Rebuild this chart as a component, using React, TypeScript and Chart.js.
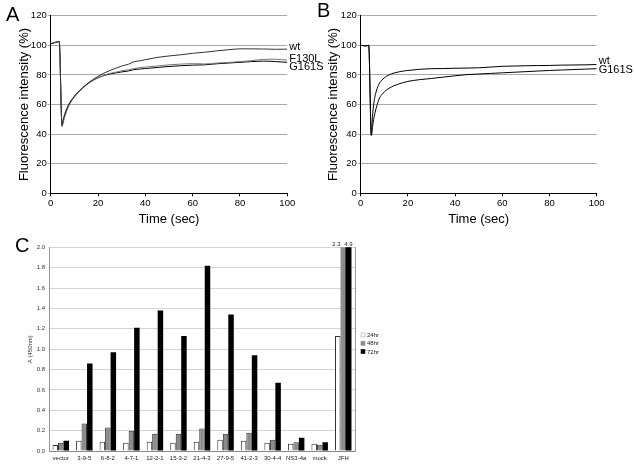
import React, { useEffect, useRef } from "react";
import { Chart, registerables } from "chart.js";
Chart.register(...registerables);

const FONT = "'Liberation Sans', Arial, Helvetica, sans-serif";

// ---------- Panel A data ----------
const timeA = [0, 1, 2, 3, 3.6, 4.8, 5.3, 6, 7, 8, 10, 12, 15, 18, 20, 22, 25, 28, 30, 33, 35, 38, 40, 45, 50, 55, 60, 65, 70, 75, 80, 85, 90, 95, 100];
const wtA = [101, 101.5, 102, 102.3, 102.6, 46, 50, 54, 58, 61, 65.5, 69, 73.5, 77, 79, 80.8, 83, 84.8, 86, 87.3, 88.8, 89.6, 90.3, 91.8, 92.8, 93.6, 94.6, 95.3, 96.2, 97, 97.6, 97.6, 97.5, 97.3, 97.4];
const f130lA = [101, 101.5, 102, 102.3, 102.6, 45, 48, 52, 56.5, 60, 65, 68.5, 73, 76.3, 78, 79.5, 81, 82, 82.8, 83.5, 84.2, 85, 85.3, 86, 86.8, 87.3, 87.6, 87.4, 88, 88.4, 89, 89.6, 90.5, 90.6, 90];
const g161sA = [101, 101.5, 102, 102.3, 102.6, 45.5, 49, 53, 57.5, 61, 65.5, 69, 73.3, 76.5, 78, 79.3, 80.6, 81.5, 82, 82.7, 83.5, 84, 84.3, 85, 85.7, 86.2, 86.6, 86.8, 87.5, 88, 88.5, 89, 89.3, 89, 88.5];
const namesA = ["wt", "F130L", "G161S"];
const labelValA = [98.8, 90.8, 85.3];

// ---------- Panel B data ----------
const timeB = [0, 1, 2, 3, 3.4, 4.5, 5, 5.5, 6, 7, 8, 9, 10, 12, 14, 16, 18, 20, 25, 30, 35, 40, 45, 50, 55, 60, 65, 70, 75, 80, 85, 90, 95, 100];
const wtB = [100, 99.8, 99.6, 99.8, 100, 39.5, 52, 60, 65, 71, 74.5, 76.5, 78, 80, 81.2, 82, 82.6, 83, 83.8, 84.2, 84.3, 84.5, 84.6, 84.8, 85.3, 85.8, 86, 86.2, 86.3, 86.4, 86.6, 86.7, 86.8, 87];
const g161sB = [100, 99.8, 99.6, 99.8, 100, 39, 45, 50, 54, 60, 64.5, 66.8, 68.5, 71, 72.6, 73.8, 74.8, 75.6, 76.8, 77.6, 78.5, 79.4, 80.2, 80.6, 81, 81.4, 81.8, 82.2, 82.6, 83, 83.3, 83.6, 83.9, 84.2];
const namesB = ["wt", "G161S"];
const labelValB = [89.4, 83.6];

// ---------- Panel C data ----------
const categoriesC = ["vector", "3-9-5", "6-8-2", "4-7-1", "12-2-1", "15-3-2", "21-4-3", "27-9-5", "41-2-3", "30-4-4", "NS3-4a", "mock", "JFH"];
const h24 = [0.06, 0.10, 0.09, 0.08, 0.09, 0.08, 0.09, 0.11, 0.10, 0.08, 0.07, 0.07, 1.13];
const h48 = [0.08, 0.27, 0.23, 0.20, 0.17, 0.17, 0.22, 0.17, 0.18, 0.11, 0.085, 0.062, 2.3];
const h72 = [0.10, 0.86, 0.97, 1.21, 1.38, 1.13, 1.82, 1.34, 0.94, 0.67, 0.13, 0.085, 4.9];
const namesC = ["24hr", "48hr", "72hr"];
const yMaxC = 2.0;

type Box = { left: number; top: number; width: number; height: number };

function ChartCanvas({ box, make }: { box: Box; make: () => any }) {
  const ref = useRef<HTMLCanvasElement | null>(null);
  useEffect(() => {
    if (!ref.current) return;
    const chart = new Chart(ref.current, make());
    return () => chart.destroy();
  }, []);
  return (
    <canvas
      ref={ref}
      width={box.width}
      height={box.height}
      style={{ position: "absolute", left: box.left, top: box.top, width: box.width, height: box.height }}
    />
  );
}

function endLabelPlugin(names: string[], values: number[]) {
  return {
    id: "endLabels",
    afterDatasetsDraw(chart: any) {
      const { ctx, chartArea, scales } = chart;
      ctx.save();
      ctx.font = `11px ${FONT}`;
      ctx.fillStyle = "#000";
      ctx.textAlign = "left";
      ctx.textBaseline = "middle";
      names.forEach((n, i) => {
        ctx.fillText(n, chartArea.right + 2, scales.y.getPixelForValue(values[i]));
      });
      ctx.restore();
    },
  };
}

function lineConfig(
  times: number[],
  series: number[][],
  colors: string[],
  names: string[],
  labelVals: number[],
  opt: { yWidth: number; right: number; titlePad: number; canvasH: number; bottomPx: number; topPx: number }
) {
  return {
    type: "line",
    data: {
      datasets: series.map((s, i) => ({
        label: names[i],
        data: times.map((t, k) => ({ x: t, y: s[k] })),
        borderColor: colors[i],
        borderWidth: 1,
        pointRadius: 0,
        fill: false,
        cubicInterpolationMode: "monotone",
      })),
    },
    options: {
      animation: false,
      responsive: false,
      devicePixelRatio: 1,
      layout: { padding: { left: 0, top: opt.topPx, right: opt.right, bottom: 0 } },
      plugins: { legend: { display: false }, tooltip: { enabled: false } },
      scales: {
        x: {
          type: "linear",
          min: 0,
          max: 100,
          ticks: { stepSize: 20, color: "#000", font: { family: FONT, size: 9.5 }, padding: 1, maxRotation: 0 },
          grid: { drawOnChartArea: false, color: "#000", tickLength: 3 },
          border: { color: "#000", width: 1 },
          title: { display: true, text: "Time (sec)", color: "#000", font: { family: FONT, size: 13 }, padding: { top: 0, bottom: 2.7 } },
          afterFit: (s: any) => { s.height = opt.canvasH - opt.bottomPx; },
        },
        y: {
          type: "linear",
          min: 0,
          max: 120,
          ticks: { stepSize: 20, color: "#000", font: { family: FONT, size: 9.5 }, padding: 1 },
          grid: { color: "#a8a8a8", tickLength: 3 },
          border: { color: "#000", width: 1 },
          title: { display: true, text: "Fluorescence intensity (%)", color: "#000", font: { family: FONT, size: 13 }, padding: { top: opt.titlePad, bottom: 0 } },
          afterFit: (s: any) => { s.width = opt.yWidth; },
        },
      },
    },
    plugins: [endLabelPlugin(names, labelVals)],
  };
}

const overflowPlugin = {
  id: "overflowLabels",
  afterDatasetsDraw(chart: any) {
    const { ctx, chartArea } = chart;
    ctx.save();
    ctx.font = `6px ${FONT}`;
    ctx.fillStyle = "#222";
    ctx.textBaseline = "alphabetic";
    ctx.textAlign = "right";
    chart.data.datasets.forEach((ds: any, d: number) => {
      const meta = chart.getDatasetMeta(d);
      ds.data.forEach((v: number, i: number) => {
        if (v > yMaxC) {
          const bar = meta.data[i];
          const w = bar.width;
          const x = d === 2 ? bar.x + w / 2 + 1 : bar.x - w / 2;
          ctx.fillText(v.toFixed(1), x, chartArea.top - 1);
        }
      });
    });
    ctx.restore();
  },
};

const legendPluginC = {
  id: "legendC",
  afterDraw(chart: any) {
    const { ctx, chartArea } = chart;
    ctx.save();
    ctx.font = `6px ${FONT}`;
    ctx.textBaseline = "middle";
    ctx.textAlign = "left";
    const cy = chartArea.top + chartArea.height * 0.471;
    chart.data.datasets.forEach((ds: any, i: number) => {
      const y = cy + (i - 1) * 8.3;
      const x = chartArea.right + 6;
      ctx.fillStyle = ds.backgroundColor;
      ctx.fillRect(x, y - 2, 4, 4);
      ctx.strokeStyle = i === 0 ? "#aaa" : ds.backgroundColor;
      ctx.lineWidth = 0.6;
      ctx.strokeRect(x, y - 2, 4, 4);
      ctx.fillStyle = "#222";
      ctx.fillText(ds.label, x + 6, y + 0.5);
    });
    ctx.restore();
  },
};

function barConfig() {
  const fills = ["#ffffff", "#8c8c8c", "#000000"];
  const data = [h24, h48, h72];
  return {
    type: "bar",
    data: {
      labels: categoriesC,
      datasets: data.map((d, i) => ({
        label: namesC[i],
        data: d,
        backgroundColor: fills[i],
        borderColor: i === 2 ? "#000" : "#333",
        borderWidth: i === 2 ? 0 : 1,
        borderSkipped: "bottom",
        barPercentage: 1,
        categoryPercentage: 0.7,
        yAxisID: "y",
      })),
    },
    options: {
      animation: false,
      responsive: false,
      devicePixelRatio: 1,
      layout: { padding: { left: 0, top: 17.3, right: 65, bottom: 0 } },
      plugins: { legend: { display: false }, tooltip: { enabled: false } },
      scales: {
        x: {
          ticks: { color: "#222", font: { family: FONT, size: 6 }, padding: 4, maxRotation: 0, autoSkip: false },
          grid: { drawOnChartArea: false, drawTicks: false },
          border: { color: "#888", width: 1 },
          afterFit: (s: any) => { s.height = 16; },
        },
        y: {
          min: 0,
          max: yMaxC,
          ticks: { stepSize: 0.2, color: "#333", font: { family: FONT, size: 6 }, padding: 4, callback: (v: number) => v.toFixed(1) },
          grid: { color: "#d4d4d4", drawTicks: false },
          border: { color: "#999", width: 1 },
          title: { display: true, text: "A (450nm)", color: "#333", font: { family: FONT, size: 6 }, padding: { top: 26.4, bottom: 0 } },
          afterFit: (s: any) => { s.width = 49; },
        },
        y2: {
          position: "right",
          min: 0,
          max: yMaxC,
          ticks: { display: false },
          grid: { drawOnChartArea: false, drawTicks: false },
          border: { color: "#999", width: 1 },
          afterFit: (s: any) => { s.width = 0; },
        },
      },
    },
    plugins: [overflowPlugin, legendPluginC],
  };
}

const letterStyle: React.CSSProperties = {
  position: "absolute",
  fontFamily: FONT,
  fontSize: 20,
  lineHeight: "20px",
  color: "#000",
};

export default function App() {
  return (
    <div style={{ position: "absolute", left: 0, top: 0, width: 634, height: 467, background: "#fff", overflow: "hidden" }}>
      <ChartCanvas
        box={{ left: 0, top: 0, width: 330, height: 230 }}
        make={() =>
          lineConfig(timeA, [wtA, f130lA, g161sA], ["#333", "#777", "#000"], namesA, labelValA, {
            yWidth: 50.7, right: 330 - 287.3, titlePad: 16.7, canvasH: 230, bottomPx: 193.3, topPx: 15.7,
          })
        }
      />
      <ChartCanvas
        box={{ left: 320, top: 0, width: 314, height: 230 }}
        make={() =>
          lineConfig(timeB, [wtB, g161sB], ["#000", "#000"], namesB, labelValB, {
            yWidth: 40.7, right: 314 - (596.7 - 320), titlePad: 5.2, canvasH: 230, bottomPx: 193.3, topPx: 15.7,
          })
        }
      />
      <ChartCanvas box={{ left: 0, top: 230, width: 420, height: 237 }} make={barConfig} />
      <div style={{ ...letterStyle, left: 6, top: 4 }}>A</div>
      <div style={{ ...letterStyle, left: 317, top: 0 }}>B</div>
      <div style={{ ...letterStyle, left: 15, top: 234.7 }}>C</div>
    </div>
  );
}
